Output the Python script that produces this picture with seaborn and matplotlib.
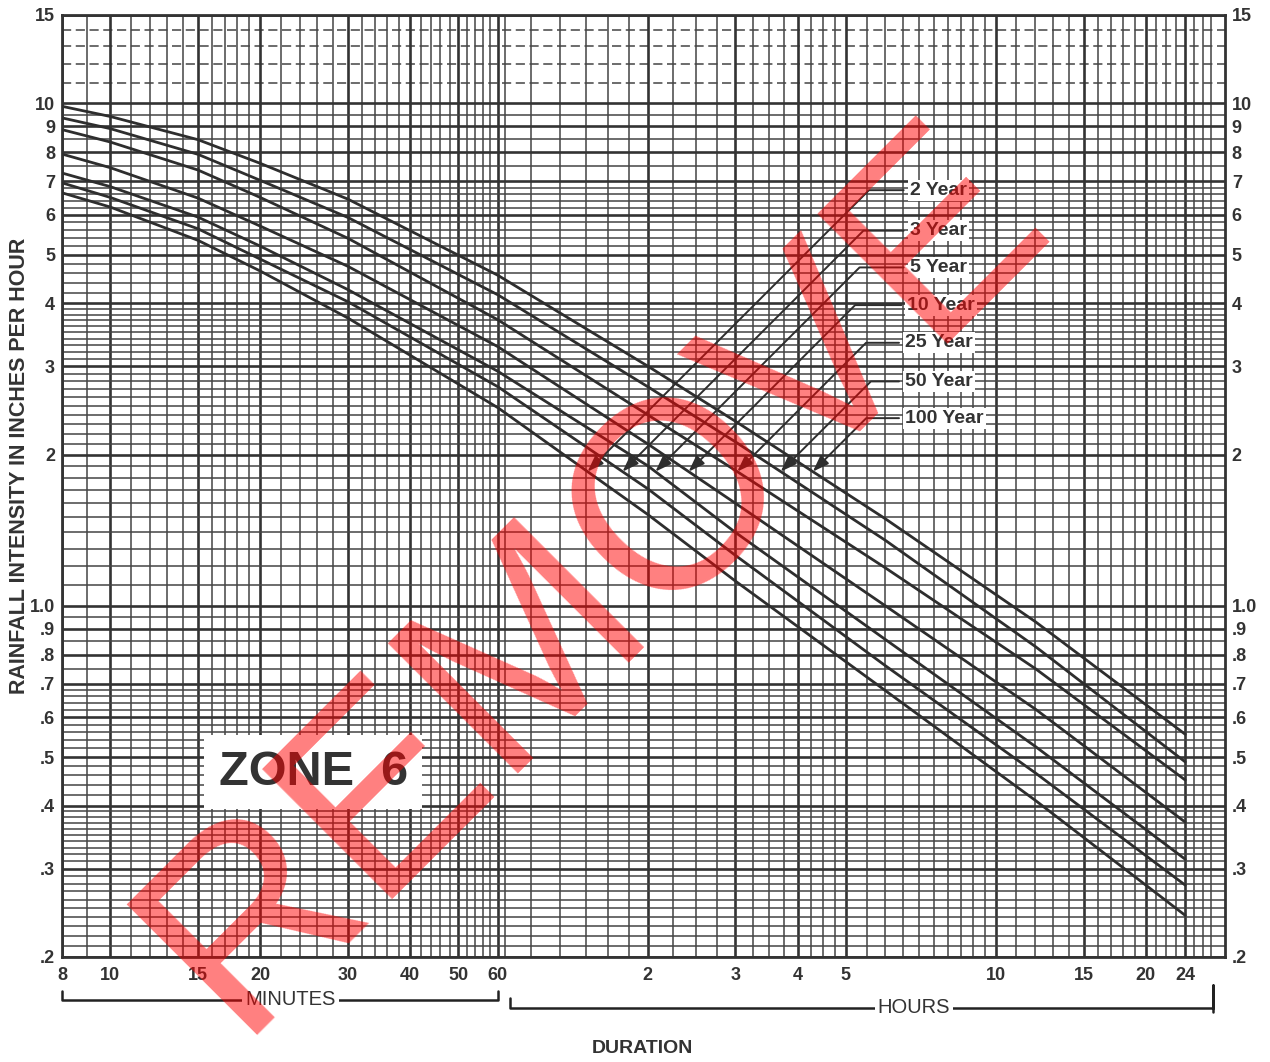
import numpy as np
import pandas as pd
import seaborn as sns
import matplotlib.pyplot as plt
from matplotlib.ticker import NullFormatter

# storm duration in minutes
durations = [8, 10, 15, 20, 30, 60, 120, 180, 360, 720, 1440]

# rainfall intensity (in/hr)
yr2 = [6.64, 6.22, 5.34, 4.64, 3.74, 2.48, 1.52, 1.12, 0.678, 0.41, 0.242]
yr3 = [6.95, 6.50, 5.63, 4.90, 4.03, 2.73, 1.71, 1.26, 0.76, 0.465, 0.278]
yr5 = [7.27, 6.83, 5.94, 5.20, 4.26, 2.93, 1.90, 1.40, 0.857, 0.525, 0.313]
yr10 = [7.93, 7.45, 6.48, 5.70, 4.74, 3.28, 2.10, 1.60, 1.00, 0.623, 0.371]
yr25 = [8.87, 8.38, 7.37, 6.50, 5.39, 3.71, 2.40, 1.86, 1.19, 0.75, 0.45]
yr50 = [9.36, 8.91, 7.92, 7.03, 5.93, 4.16, 2.73, 2.12, 1.35, 0.83, 0.489]
yr100 = [9.87, 9.42, 8.47, 7.60, 6.45, 4.55, 3.00, 2.33, 1.49, 0.93, 0.555]

periods = ["2 Year", "3 Year", "5 Year", "10 Year", "25 Year", "50 Year", "100 Year"]
series = [yr2, yr3, yr5, yr10, yr25, yr50, yr100]

x_major = [8, 10, 15, 20, 30, 40, 50, 60, 120, 180, 240, 300, 600, 900, 1200, 1440]
x_labels = ["8", "10", "15", "20", "30", "40", "50", "60",
            "2", "3", "4", "5", "10", "15", "20", "24"]
y_major = [0.2, 0.3, 0.4, 0.5, 0.6, 0.7, 0.8, 0.9, 1.0,
           2, 3, 4, 5, 6, 7, 8, 9, 10, 15]
y_labels = [".2", ".3", ".4", ".5", ".6", ".7", ".8", ".9", "1.0",
            "2", "3", "4", "5", "6", "7", "8", "9", "10", "15"]

# fine chart-paper rulings
x_minor = (list(range(9, 20)) + list(range(22, 60, 2)) + [62]
           + list(range(70, 120, 10)) + list(range(135, 300, 15))
           + list(range(330, 600, 30)) + list(range(660, 1440, 60))
           + [1500, 1560, 1620])
y_minor = []
for b in [0.1, 1.0]:
    y_minor += list(np.arange(2, 4, 0.1) * b) + list(np.arange(4, 7, 0.2) * b) \
        + list(np.arange(7, 10, 0.5) * b)
y_minor += list(np.arange(1.1, 2.0, 0.1))
y_dashed = [11, 12, 13, 14]

df = pd.DataFrame({
    "minutes": durations * len(periods),
    "intensity": sum(series, []),
    "period": np.repeat(periods, len(durations)),
})

sns.set_theme(style="white")
plt.rcParams["font.family"] = ["Liberation Sans", "DejaVu Sans"]
plt.rcParams["font.weight"] = "bold"

ink = "#333333"
fig = plt.figure(figsize=(12.7, 10.62), dpi=100)
ax = fig.add_axes([0.0488, 0.0989, 0.9157, 0.8870])

sns.lineplot(data=df, x="minutes", y="intensity", hue="period",
             palette={p: "#2e2e2e" for p in periods}, legend=False,
             linewidth=2.0, ax=ax, zorder=3)

ax.set_xscale("log")
ax.set_yscale("log")
ax.set_xlim(8, 1730)
ax.set_ylim(0.2, 15)

ax.set_xticks(x_major)
ax.set_xticklabels(x_labels)
ax.set_xticks(x_minor, minor=True)
ax.set_yticks(y_major)
ax.set_yticklabels(y_labels)
ax.set_yticks(y_minor, minor=True)
ax.xaxis.set_minor_formatter(NullFormatter())
ax.yaxis.set_minor_formatter(NullFormatter())
ax.tick_params(which="both", length=0)
ax.tick_params(axis="x", labelsize=13, labelcolor=ink, pad=7)
ax.tick_params(axis="y", labelsize=13, labelcolor=ink, pad=5, labelright=True)
ax.grid(which="major", color="#333333", linewidth=1.9)
ax.grid(which="minor", color="#444444", linewidth=1.1)
ax.hlines(y_dashed, 8, 1730, colors="#444444", linewidth=1.1,
          linestyles=(0, (6, 3)), zorder=0.5)
for s in ax.spines.values():
    s.set_color("#333333")
    s.set_linewidth(2)
ax.set_xlabel("")
ax.set_ylabel("")

# return-period labels with leader arrows onto the curves
arrow_level = 1.85
label_y = [0.814, 0.771, 0.732, 0.692, 0.652, 0.611, 0.572]
label_x = [0.729, 0.729, 0.729, 0.727, 0.725, 0.725, 0.725]
for name, vals, lx, ly in zip(periods, series, label_x, label_y):
    tip = np.exp(np.interp(np.log(arrow_level), np.log(vals[::-1]),
                           np.log(durations[::-1])))
    ax.annotate(name, xy=(tip, arrow_level), xycoords="data",
                xytext=(lx, ly), textcoords="axes fraction",
                fontsize=14, color=ink, ha="left", va="center", zorder=6,
                bbox=dict(boxstyle="square,pad=0.1", facecolor="white",
                          edgecolor="none"),
                arrowprops=dict(arrowstyle="-|>,head_length=0.7,head_width=0.25",
                                connectionstyle="angle,angleA=0,angleB=45,rad=0",
                                relpos=(0, 0.5), shrinkA=3, shrinkB=0,
                                color="#2e2e2e", lw=1.4))

ax.text(0.216, 0.196, "ZONE  6", transform=ax.transAxes, fontsize=35,
        color=ink, ha="center", va="center", zorder=6,
        bbox=dict(boxstyle="square,pad=0.3", facecolor="white", edgecolor="none"))

# duration brackets under the axis
bt = ax.get_xaxis_transform()
ax.plot([8, 8, 60, 60], [-0.036, -0.0456, -0.0456, -0.036], transform=bt,
        clip_on=False, color="#222222", lw=1.8)
ax.text(23, -0.0456, "MINUTES", transform=bt, fontsize=14.5, fontweight="normal",
        color=ink, ha="center", va="center",
        bbox=dict(boxstyle="square,pad=0.15", facecolor="white", edgecolor="none"))
ax.plot([63.5, 63.5, 1640, 1640, 1640], [-0.044, -0.054, -0.054, -0.03, -0.058],
        transform=bt, clip_on=False, color="#222222", lw=1.8)
ax.text(411, -0.054, "HOURS", transform=bt, fontsize=14.5, fontweight="normal",
        color=ink, ha="center", va="center",
        bbox=dict(boxstyle="square,pad=0.15", facecolor="white", edgecolor="none"))

fig.text(0.5055, 0.0125, "DURATION", fontsize=14, color=ink,
         ha="center", va="center")
fig.text(0.0157, 0.561, "RAINFALL INTENSITY IN INCHES PER HOUR", fontsize=15.5,
         color=ink, rotation=90, ha="center", va="center")

fig.text(0.468, 0.456, "REMOVE", fontsize=192, fontweight="normal",
         color="red", alpha=0.5, rotation=45, rotation_mode="anchor",
         ha="center", va="center", zorder=10)

fig.savefig("out.png", dpi=100, facecolor="white")
